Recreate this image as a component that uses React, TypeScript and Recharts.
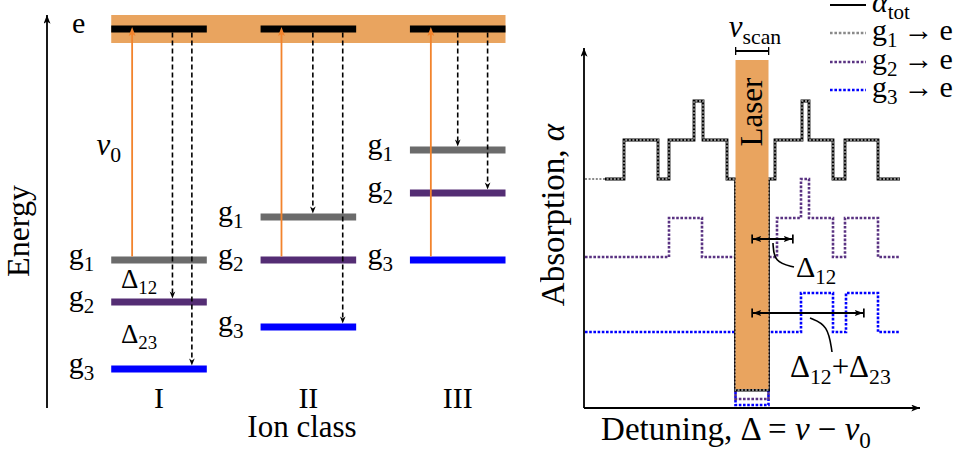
import React from "react";
import {
  ComposedChart,
  Line,
  XAxis,
  YAxis,
  ReferenceLine,
  ReferenceArea,
  ReferenceDot,
  Legend,
} from "recharts";

// ---- left panel: level scheme (energy in arbitrary units) ----
const ionClasses = ["I", "II", "III"];
const classPos = [1, 2, 3];
const levelNames = ["g_{1}", "g_{2}", "g_{3}"];
const excited = 37.9;
const groundLevels = [
  [14.8, 10.6, 3.9], // class I : g1, g2, g3
  [19.1, 14.8, 8.1], // class II
  [25.8, 21.5, 14.8], // class III
];
const pumpedFrom = [0, 1, 2]; // level that is resonant with the laser
const decayTo = [
  [1, 2],
  [0, 2],
  [0, 1],
];
const laserLine = [36.5, 39.3];

// ---- right panel: absorption vs detuning ----
const totX = [-14.7, -12.8, -9.4, -8.3, -5.8, -4.9, -2.5, -1.65, 1.65, 2.3, 5.0, 5.7, 8.1, 9.3, 12.6, 14.8];
const totY = [22.9, 26.8, 22.9, 26.8, 30.7, 26.8, 22.9, 1.8, 22.9, 26.8, 30.7, 26.8, 22.9, 26.8, 22.9, 22.9];
const g1X = [-16.7, -12.8, -9.4, -8.3, -5.8, -4.9, -2.5, -1.65, 1.65, 2.3, 5.0, 5.7, 8.1, 9.3, 12.6, 14.8];
const g1Y = [22.9, 26.8, 22.9, 26.8, 30.7, 26.8, 22.9, 1.8, 22.9, 26.8, 30.7, 26.8, 22.9, 26.8, 22.9, 22.9];
const g2X = [-16.7, -8.3, -5.0, -1.65, 1.65, 2.5, 4.9, 5.7, 8.1, 9.3, 12.6, 14.8];
const g2Y = [15.1, 19.0, 15.1, 0.9, 15.1, 19.0, 22.9, 19.0, 15.1, 19.0, 15.1, 15.1];
const g3X = [-16.7, -1.65, 1.65, 4.9, 8.1, 9.4, 12.6, 14.8];
const g3Y = [7.6, 0.3, 7.6, 11.5, 7.6, 11.5, 7.6, 7.6];
const laserSpan = [-1.65, 1.65];
const laserHeight = [1.9, 34.8];
const delta12 = 4.1;
const delta23 = 7.1;
const leader12 = [
  [2.1, 16.5],
  [2.2, 14.6],
  [4.2, 14.1],
];
const leader123 = [
  [5.8, 9.0],
  [7.6, 8.3],
  [8.0, 5.6],
];
const legendLabels = ["α_{tot}", "g_{1}\u2009→\u2009e", "g_{2}\u2009→\u2009e", "g_{3}\u2009→\u2009e"];

const pts = (xs: number[], ys: number[]) => xs.map((x, i) => ({ x, y: ys[i] }));
const totData = pts(totX, totY);
const g1Data = pts(g1X, g1Y);
const g2Data = pts(g2X, g2Y);
const g3Data = pts(g3X, g3Y);
const lead12Data = leader12.map(([x, y]) => ({ x, y }));
const lead123Data = leader123.map(([x, y]) => ({ x, y }));

const serif = '"Liberation Serif", "Times New Roman", serif';
const levelColor = ["#6b6b6b", "#542d74", "#0000ff"];
const dotColor = ["#8a8a8a", "#5a3382", "#0000ff"];
const orange = "#e9a45f";
const pumpColor = "#f2832c";
const halfW = 0.32;

const italic = /^[να]$/;
function parse(s: string) {
  const out: { t: string; sub: boolean; it: boolean }[] = [];
  s.split(/(_\{[^}]*\})/).forEach((seg) => {
    if (!seg) return;
    if (seg.startsWith("_{")) {
      out.push({ t: seg.slice(2, -1), sub: true, it: false });
      return;
    }
    seg.split(/([να])/).forEach((c) => {
      if (c) out.push({ t: c, sub: false, it: italic.test(c) });
    });
  });
  return out;
}

function Rich({ x, y, text, size = 30, anchor = "start", rotate = false }: any) {
  const shift = size * 0.24;
  let down = false;
  const spans = parse(text).map((p, i) => {
    let dy = 0;
    if (p.sub && !down) {
      dy = shift;
      down = true;
    } else if (!p.sub && down) {
      dy = -shift;
      down = false;
    }
    return (
      <tspan key={i} dy={dy || undefined} fontSize={p.sub ? size * 0.7 : undefined} fontStyle={p.it ? "italic" : undefined}>
        {p.t}
      </tspan>
    );
  });
  return (
    <text
      x={x}
      y={y}
      textAnchor={anchor}
      fontFamily={serif}
      fontSize={size}
      fill="#000"
      transform={rotate ? `rotate(-90 ${x} ${y})` : undefined}
      style={{ whiteSpace: "pre" }}
    >
      {spans}
    </text>
  );
}

const levelLabel = (text: string, gap: number) => (p: any) =>
  <Rich x={p.viewBox.x - gap} y={p.viewBox.y + 4} text={text} anchor="end" />;

const dotLabel = (text: string, size: number, anchor = "start", dx = 0) => (p: any) =>
  <Rich x={p.viewBox.x + dx} y={p.viewBox.y} text={text} anchor={anchor} size={size} />;

// vertical arrow drawn as the ReferenceLine shape, head built from the line's own end points
const arrowShape = (color: string, dash?: string, len = 8, half = 3.2) => (p: any) => {
  const { x1, y1, x2, y2 } = p;
  const dir = Math.sign(y2 - y1) || 1;
  const base = y2 - dir * len;
  return (
    <g>
      <line x1={x1} y1={y1} x2={x2} y2={base + dir * 2} stroke={color} strokeWidth={p.strokeWidth} strokeDasharray={dash} />
      <path d={`M${x2},${y2} L${x2 - half},${base} L${x2},${base + dir * 2} L${x2 + half},${base} Z`} fill={color} />
    </g>
  );
};

function LegendBox() {
  const rows = [19, 47, 76, 104];
  return (
    <svg width={135} height={120}>
      {legendLabels.map((lab, i) => (
        <g key={lab}>
          <line
            x1={0}
            x2={36}
            y1={rows[i]}
            y2={rows[i]}
            stroke={i === 0 ? "#000" : dotColor[i - 1]}
            strokeWidth={i === 0 ? 2 : 2.6}
            strokeDasharray={i === 0 ? undefined : "2.6 1.8"}
          />
          <Rich x={42} y={rows[i] + 7} text={lab} size={30} />
        </g>
      ))}
    </svg>
  );
}

export default function App() {
  return (
    <div style={{ position: "absolute", left: 0, top: 0, width: 961, height: 450, background: "#fff", overflow: "hidden" }}>
      <svg width={0} height={0} style={{ position: "absolute" }}>
        <defs>
          <marker id="axHead" viewBox="0 0 10 8" refX={10} refY={4} markerWidth={9} markerHeight={7} markerUnits="userSpaceOnUse" orient="auto-start-reverse">
            <path d="M0,0 L10,4 L0,8 L2.5,4 z" fill="#000" />
          </marker>
          <marker id="barHead" viewBox="0 0 10 10" refX={9.2} refY={5} markerWidth={10} markerHeight={10} markerUnits="userSpaceOnUse" orient="auto-start-reverse">
            <path d="M0,1.8 L8.4,5 L0,8.2 L1.6,5 z" fill="#000" />
            <rect x={8.2} y={0.5} width={1.7} height={9} fill="#000" />
          </marker>
          <marker id="barEnd" viewBox="0 0 2 8" refX={1} refY={4} markerWidth={2} markerHeight={8} markerUnits="userSpaceOnUse" orient="auto">
            <rect x={0.2} y={0} width={1.6} height={8} fill="#000" />
          </marker>
        </defs>
      </svg>

      {/* left: energy levels of the three ion classes */}
      <div style={{ position: "absolute", left: 0, top: 0 }}>
        <ComposedChart width={520} height={450} margin={{ top: 15, right: 10, bottom: 0, left: 12 }}>
          <XAxis
            type="number"
            dataKey="x"
            domain={[0.25, 3.35]}
            allowDataOverflow
            ticks={classPos}
            interval={0}
            axisLine={false}
            tickLine={false}
            tickSize={0}
            tickMargin={0}
            height={42}
            tick={(p: any) => (
              <text x={p.x} y={p.y} textAnchor="middle" fontFamily={serif} fontSize={30} fill="#000">
                {ionClasses[classPos.indexOf(p.payload.value)]}
              </text>
            )}
            label={(p: any) => <Rich x={p.viewBox.x + 255} y={p.viewBox.y + 29} text="Ion class" anchor="middle" size={31} />}
          />
          <YAxis
            type="number"
            domain={[0, 39.3]}
            allowDataOverflow
            width={35}
            tick={false}
            tickLine={false}
            axisLine={{ stroke: "#000", strokeWidth: 1.8, markerStart: "url(#axHead)" }}
            label={(p: any) => <Rich x={p.viewBox.x + 17} y={231} text="Energy" anchor="middle" size={32} rotate />}
          />
          <ReferenceArea
            x1={classPos[0] - halfW}
            x2={classPos[2] + halfW}
            y1={laserLine[0]}
            y2={laserLine[1]}
            fill={orange}
            fillOpacity={1}
            stroke="none"
            zIndex={100}
          />
          {classPos.map((cx, i) => (
            <ReferenceLine
              key={`e${i}`}
              segment={[
                { x: cx - halfW, y: excited },
                { x: cx + halfW, y: excited },
              ]}
              stroke="#000"
              strokeWidth={7}
              zIndex={300}
              label={i === 0 ? levelLabel("e", 26) : undefined}
            />
          ))}
          {groundLevels.map((lv, i) =>
            lv.map((en, k) => (
              <ReferenceLine
                key={`g${i}${k}`}
                segment={[
                  { x: classPos[i] - halfW, y: en },
                  { x: classPos[i] + halfW, y: en },
                ]}
                stroke={levelColor[k]}
                strokeWidth={7}
                zIndex={300}
                label={levelLabel(levelNames[k], 17)}
              />
            ))
          )}
          {classPos.map((cx, i) => (
            <ReferenceLine
              key={`p${i}`}
              segment={[
                { x: cx - 0.18, y: groundLevels[i][pumpedFrom[i]] + 0.35 },
                { x: cx - 0.18, y: excited + 0.2 },
              ]}
              stroke={pumpColor}
              strokeWidth={1.8}
              zIndex={600}
              shape={arrowShape(pumpColor, undefined, 9, 3.4)}
            />
          ))}
          {classPos.map((cx, i) =>
            decayTo[i].map((k, j) => {
              const dx = [[0.09, 0.22], [0.03, 0.23], [0.0, 0.2]][i][j];
              return (
                <ReferenceLine
                  key={`d${i}${j}`}
                  segment={[
                    { x: cx + dx, y: excited - 0.35 },
                    { x: cx + dx, y: groundLevels[i][k] + 0.35 },
                  ]}
                  stroke="#000"
                  strokeWidth={1.6}
                  zIndex={600}
                  shape={arrowShape("#000", "5 3", 7, 2.8)}
                />
              );
            })
          )}
          <ReferenceDot x={0.82} y={25.3} r={0} fill="none" stroke="none" label={dotLabel("ν_{0}", 31, "end", -11)} />
          <ReferenceDot x={0.745} y={12.0} r={0} fill="none" stroke="none" label={dotLabel("Δ_{12}", 27)} />
          <ReferenceDot x={0.745} y={6.5} r={0} fill="none" stroke="none" label={dotLabel("Δ_{23}", 27)} />
        </ComposedChart>
      </div>

      {/* right: absorption spectrum with the spectral hole */}
      <div style={{ position: "absolute", left: 540, top: 0 }}>
        <ComposedChart width={421} height={450} margin={{ top: 48, right: 41, bottom: 0, left: 14 }}>
          <XAxis
            type="number"
            dataKey="x"
            domain={[-16.8, 16.8]}
            allowDataOverflow
            tick={false}
            tickLine={false}
            height={42}
            axisLine={{ stroke: "#000", strokeWidth: 1.8, markerEnd: "url(#axHead)" }}
            label={(p: any) => (
              <Rich x={p.viewBox.x + p.viewBox.width / 2 - 16} y={p.viewBox.y + 32} text="Detuning, Δ = ν − ν_{0}" anchor="middle" size={33} />
            )}
          />
          <YAxis
            type="number"
            dataKey="y"
            domain={[0, 36]}
            allowDataOverflow
            width={30}
            tick={false}
            tickLine={false}
            axisLine={{ stroke: "#000", strokeWidth: 1.8, markerStart: "url(#axHead)" }}
            label={(p: any) => <Rich x={p.viewBox.x + 10} y={215} text="Absorption, α" anchor="middle" size={33} rotate />}
          />
          <Legend
            layout="horizontal"
            verticalAlign="middle"
            align="center"
            wrapperStyle={{ top: -14, left: 290, width: 135, height: 120 }}
            content={() => <LegendBox />}
          />
          <Line data={g3Data} dataKey="y" name="g3" type="stepAfter" stroke={dotColor[2]} strokeWidth={2.6} strokeDasharray="2.6 1.6" dot={false} isAnimationActive={false} />
          <Line data={g2Data} dataKey="y" name="g2" type="stepAfter" stroke={dotColor[1]} strokeWidth={2.6} strokeDasharray="2.6 1.6" dot={false} isAnimationActive={false} />
          <Line data={totData} dataKey="y" name="tot" type="stepAfter" stroke="#000" strokeWidth={2.8} dot={false} isAnimationActive={false} />
          <Line data={g1Data} dataKey="y" name="g1" type="stepAfter" stroke={dotColor[0]} strokeWidth={1.8} strokeDasharray="2 1.6" dot={false} isAnimationActive={false} />
          <Line data={lead12Data} dataKey="y" type="basis" stroke="#000" strokeWidth={1.6} dot={false} legendType="none" isAnimationActive={false} />
          <Line data={lead123Data} dataKey="y" type="basis" stroke="#000" strokeWidth={1.6} dot={false} legendType="none" isAnimationActive={false} />
          <ReferenceArea
            x1={laserSpan[0]}
            x2={laserSpan[1]}
            y1={laserHeight[0]}
            y2={laserHeight[1]}
            fill={orange}
            fillOpacity={1}
            stroke="none"
            zIndex={450}
            label={(p: any) => (
              <Rich x={p.viewBox.x + p.viewBox.width / 2 + 10} y={p.viewBox.y + 52} text="Laser" anchor="middle" size={31} rotate />
            )}
          />
          <ReferenceLine
            segment={[
              { x: laserSpan[0], y: 35.7 },
              { x: laserSpan[1], y: 35.7 },
            ]}
            stroke="#000"
            strokeWidth={1.8}
            markerStart="url(#barEnd)"
            markerEnd="url(#barEnd)"
            zIndex={500}
            label={(p: any) => <Rich x={p.viewBox.x + p.viewBox.width / 2 + 3} y={p.viewBox.y - 14} text="ν_{scan}" anchor="middle" size={31} />}
          />
          <ReferenceLine
            segment={[
              { x: 0, y: 16.9 },
              { x: delta12, y: 16.9 },
            ]}
            stroke="#000"
            strokeWidth={1.8}
            markerStart="url(#barHead)"
            markerEnd="url(#barHead)"
            zIndex={500}
          />
          <ReferenceLine
            segment={[
              { x: 0, y: 9.5 },
              { x: delta12 + delta23, y: 9.5 },
            ]}
            stroke="#000"
            strokeWidth={1.8}
            markerStart="url(#barHead)"
            markerEnd="url(#barHead)"
            zIndex={500}
          />
          <ReferenceDot x={delta12 + 0.3} y={13.1} r={0} fill="none" stroke="none" zIndex={500} label={dotLabel("Δ_{12}", 30)} />
          <ReferenceDot x={3.8} y={3.1} r={0} fill="none" stroke="none" zIndex={500} label={dotLabel("Δ_{12}+Δ_{23}", 31)} />
        </ComposedChart>
      </div>
    </div>
  );
}
